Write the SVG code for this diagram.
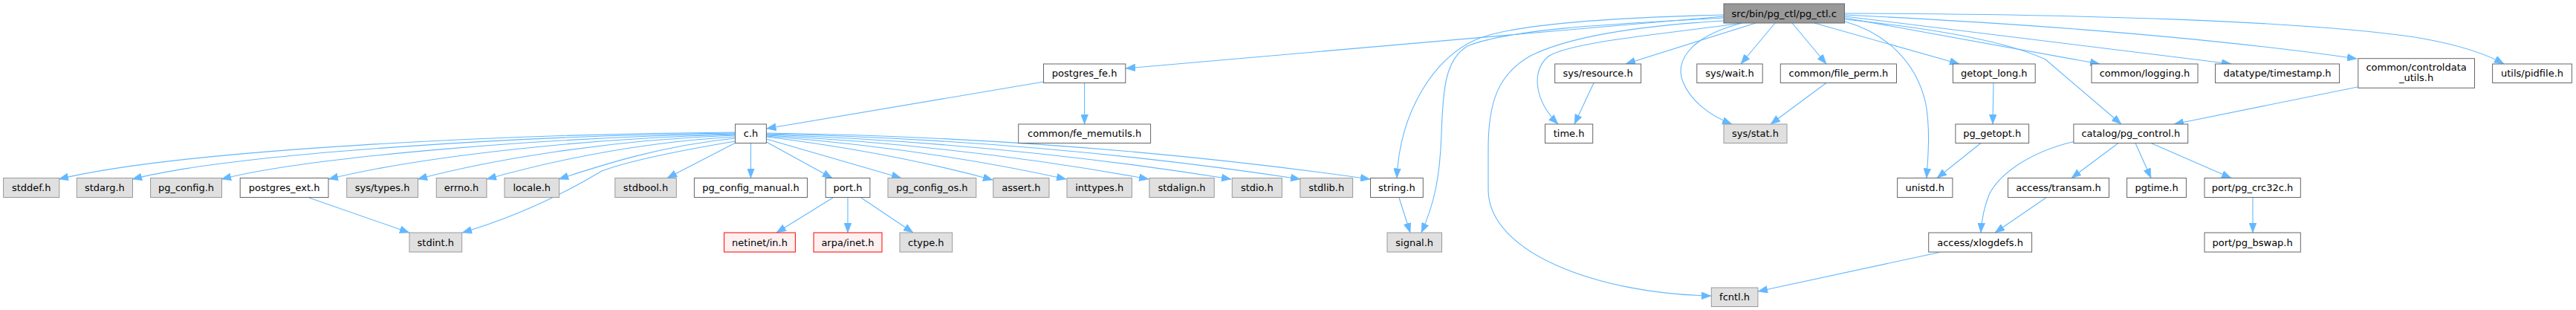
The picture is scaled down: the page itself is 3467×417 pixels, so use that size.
<svg xmlns="http://www.w3.org/2000/svg" width="3467" height="417" viewBox="0 0 3467 417">
<style>
rect{stroke-width:1}
.w{fill:#ffffff;stroke:#666666}
.g{fill:#e0e0e0;stroke:#999999}
.r{fill:#999999;stroke:#666666}
.m{fill:#fff0f0;stroke:#ff0000}
text{font-family:"DejaVu Sans","Liberation Sans",sans-serif;font-size:13px;fill:#000000;text-anchor:middle}
#edges path{fill:none;stroke:#63b8ff;stroke-width:1.1;marker-end:url(#ah)}
</style>
<defs>
<marker id="ah" markerUnits="userSpaceOnUse" markerWidth="13" markerHeight="10" viewBox="0 0 13 10" refX="13" refY="5" orient="auto">
<path d="M0,0 L13,5 L0,10 z" fill="#63b8ff" stroke="#63b8ff" stroke-width="0.5"/>
</marker>
</defs>
<rect width="3467" height="417" fill="#ffffff"/>
<g id="edges">
<path d="M2320,22 L1515,92"/>
<path d="M2320,20 C2150,24 2030,35 1987,53 C1930,78 1884,150 1880,239.5"/>
<path d="M2320,24 C2150,33 2030,40 1975,62 C1945,80 1942,120 1940,180 C1938,240 1930,275 1913,313"/>
<path d="M2320,28 C2200,35 2110,50 2060,75 C2015,100 2003,140 2003,200 L2003,255 C2003,340 2150,395 2303,398"/>
<path d="M2343,31 C2250,45 2120,55 2085,75 C2060,95 2065,135 2097,167"/>
<path d="M2363,31 L2188,86"/>
<path d="M2345,31 C2270,50 2255,85 2265,110 C2275,135 2300,155 2331,167"/>
<path d="M2389,31 L2343,86"/>
<path d="M2412,31 L2458,86"/>
<path d="M2483,29 C2540,45 2580,85 2592,140 C2598,175 2595,210 2593,239.5"/>
<path d="M2442,31 L2637,86"/>
<path d="M2483,26 C2600,38 2700,55 2753,80 L2855,167"/>
<path d="M2483,24 L2826,86"/>
<path d="M2483,22 L3003,86"/>
<path d="M2483,20 Q2900,40 3172,79"/>
<path d="M2483,18 C2800,19 3100,28 3250,50 C3310,60 3345,72 3370,86"/>
<path d="M1404.5,110 L1031.5,173"/>
<path d="M1459.6,111.5 L1459.6,167"/>
<path d="M989.5,178 C700,180 250,200 79,241"/>
<path d="M989.5,179 C720,182 320,205 178,241"/>
<path d="M989.5,180 C750,184 420,210 298,241"/>
<path d="M989.5,181 C780,186 560,212 442,241"/>
<path d="M989.5,182 C820,188 660,215 562,241"/>
<path d="M989.5,184 C850,192 730,220 655,241"/>
<path d="M989.5,186 C890,196 810,222 752,241"/>
<path d="M989.5,190 C930,200 850,215 810,230 C760,260 700,290 622,313"/>
<path d="M990,192 L898,239.5"/>
<path d="M1010.5,192.5 L1010.5,239.5"/>
<path d="M1031.5,191 L1120,239.5"/>
<path d="M1031.5,187 L1213,239.5"/>
<path d="M1031.5,184 Q1200,205 1336,242"/>
<path d="M1031.5,183 Q1250,200 1435,241"/>
<path d="M1031.5,182 Q1300,196 1546,241"/>
<path d="M1031.5,181 Q1350,192 1657,241"/>
<path d="M1031.5,180 Q1400,188 1750,241"/>
<path d="M1031.5,179 Q1450,185 1844,241"/>
<path d="M1121,266 L1045,313"/>
<path d="M1141,266 L1141,313"/>
<path d="M1159,266 L1229,313"/>
<path d="M416,266 L551,313"/>
<path d="M1883,266 L1898,313"/>
<path d="M2145,111.5 L2119,167"/>
<path d="M2458,111.5 L2383,167"/>
<path d="M2683,111.5 L2682,167"/>
<path d="M2666,192.5 L2607,239.5"/>
<path d="M3173,117 L2926,167"/>
<path d="M2791,190.5 C2730,205 2690,235 2677,262 C2670,280 2667,295 2666,313"/>
<path d="M2851,192.5 L2788,239.5"/>
<path d="M2874,192.5 L2895,239.5"/>
<path d="M2895,192.5 L3003,239.5"/>
<path d="M2753.6,266 L2685,313"/>
<path d="M3032,266 L3032,313"/>
<path d="M2610,339.5 L2366,392"/>
</g>
<g id="n_root"><rect class="r" x="2320" y="5" width="162.5" height="26"/><text x="2401.2" y="22.7">src/bin/pg_ctl/pg_ctl.c</text></g>
<g id="n_postgres_fe"><rect class="w" x="1404.5" y="86" width="110.3" height="25.5"/><text x="1459.6" y="103.4">postgres_fe.h</text></g>
<g id="n_sys_resource"><rect class="w" x="2092.7" y="86" width="115.9" height="25.5"/><text x="2150.6" y="103.4">sys/resource.h</text></g>
<g id="n_sys_wait"><rect class="w" x="2283.8" y="86" width="88.4" height="25.5"/><text x="2328" y="103.4">sys/wait.h</text></g>
<g id="n_file_perm"><rect class="w" x="2396.3" y="86" width="156.2" height="25.5"/><text x="2474.4" y="103.4">common/file_perm.h</text></g>
<g id="n_getopt_long"><rect class="w" x="2628.4" y="86" width="110.8" height="25.5"/><text x="2683.8" y="103.4">getopt_long.h</text></g>
<g id="n_logging"><rect class="w" x="2815" y="86" width="143" height="25.5"/><text x="2886.5" y="103.4">common/logging.h</text></g>
<g id="n_timestamp"><rect class="w" x="2981.5" y="86" width="167" height="25.5"/><text x="3065" y="103.4">datatype/timestamp.h</text></g>
<g id="n_controldata"><rect class="w" x="3173.8" y="78.7" width="156.7" height="39.6"/><text x="3252.1" y="94.8">common/controldata</text><text x="3252.1" y="109.3">_utils.h</text></g>
<g id="n_pidfile"><rect class="w" x="3354.6" y="86" width="106.8" height="25.5"/><text x="3408" y="103.4">utils/pidfile.h</text></g>
<g id="n_c"><rect class="w" x="989.5" y="167" width="41.9" height="25.5"/><text x="1010.5" y="184.4">c.h</text></g>
<g id="n_fe_memutils"><rect class="w" x="1370.7" y="167" width="177.9" height="25.5"/><text x="1459.6" y="184.4">common/fe_memutils.h</text></g>
<g id="n_time"><rect class="w" x="2079.5" y="167" width="64.2" height="25.5"/><text x="2111.6" y="184.4">time.h</text></g>
<g id="n_sys_stat"><rect class="g" x="2320" y="167" width="85" height="25.5"/><text x="2362.5" y="184.4">sys/stat.h</text></g>
<g id="n_pg_getopt"><rect class="w" x="2631.9" y="167" width="98.7" height="25.5"/><text x="2681.2" y="184.4">pg_getopt.h</text></g>
<g id="n_pg_control"><rect class="w" x="2790.9" y="167" width="153.8" height="25.5"/><text x="2867.8" y="184.4">catalog/pg_control.h</text></g>
<g id="n_stddef"><rect class="g" x="4.6" y="239.5" width="75.2" height="26"/><text x="42.2" y="257.2">stddef.h</text></g>
<g id="n_stdarg"><rect class="g" x="103.3" y="239.5" width="75.2" height="26"/><text x="140.9" y="257.2">stdarg.h</text></g>
<g id="n_pg_config"><rect class="g" x="202.6" y="239.5" width="95.9" height="26"/><text x="250.5" y="257.2">pg_config.h</text></g>
<g id="n_postgres_ext"><rect class="w" x="323.2" y="239.5" width="118.8" height="26"/><text x="382.6" y="257.2">postgres_ext.h</text></g>
<g id="n_sys_types"><rect class="g" x="466.7" y="239.5" width="95.9" height="26"/><text x="514.6" y="257.2">sys/types.h</text></g>
<g id="n_errno"><rect class="g" x="587.3" y="239.5" width="67.7" height="26"/><text x="621.1" y="257.2">errno.h</text></g>
<g id="n_locale"><rect class="g" x="679" y="239.5" width="73.6" height="26"/><text x="715.8" y="257.2">locale.h</text></g>
<g id="n_stdbool"><rect class="g" x="827.8" y="239.5" width="82.5" height="26"/><text x="869" y="257.2">stdbool.h</text></g>
<g id="n_pg_config_manual"><rect class="w" x="934.4" y="239.5" width="152.1" height="26"/><text x="1010.5" y="257.2">pg_config_manual.h</text></g>
<g id="n_port"><rect class="w" x="1111.2" y="239.5" width="59.7" height="26"/><text x="1141" y="257.2">port.h</text></g>
<g id="n_pg_config_os"><rect class="g" x="1195" y="239.5" width="118.8" height="26"/><text x="1254.4" y="257.2">pg_config_os.h</text></g>
<g id="n_assert"><rect class="g" x="1336.8" y="239.5" width="75.2" height="26"/><text x="1374.4" y="257.2">assert.h</text></g>
<g id="n_inttypes"><rect class="g" x="1436" y="239.5" width="87.4" height="26"/><text x="1479.7" y="257.2">inttypes.h</text></g>
<g id="n_stdalign"><rect class="g" x="1546.9" y="239.5" width="87.3" height="26"/><text x="1590.5" y="257.2">stdalign.h</text></g>
<g id="n_stdio"><rect class="g" x="1658.3" y="239.5" width="67.1" height="26"/><text x="1691.8" y="257.2">stdio.h</text></g>
<g id="n_stdlib"><rect class="g" x="1749.9" y="239.5" width="70.7" height="26"/><text x="1785.2" y="257.2">stdlib.h</text></g>
<g id="n_string"><rect class="w" x="1844.5" y="239.5" width="70.8" height="26"/><text x="1879.9" y="257.2">string.h</text></g>
<g id="n_unistd"><rect class="w" x="2553.6" y="239.5" width="74.3" height="26"/><text x="2590.7" y="257.2">unistd.h</text></g>
<g id="n_transam"><rect class="w" x="2702.5" y="239.5" width="136" height="26"/><text x="2770.5" y="257.2">access/transam.h</text></g>
<g id="n_pgtime"><rect class="w" x="2862.6" y="239.5" width="79.8" height="26"/><text x="2902.5" y="257.2">pgtime.h</text></g>
<g id="n_pg_crc32c"><rect class="w" x="2967" y="239.5" width="129.3" height="26"/><text x="3031.6" y="257.2">port/pg_crc32c.h</text></g>
<g id="n_stdint"><rect class="g" x="551" y="313" width="70.7" height="26"/><text x="586.3" y="330.7">stdint.h</text></g>
<g id="n_netinet_in"><rect class="m" x="974.6" y="313" width="95.8" height="26"/><text x="1022.5" y="330.7">netinet/in.h</text></g>
<g id="n_arpa_inet"><rect class="m" x="1095.1" y="313" width="91.9" height="26"/><text x="1141" y="330.7">arpa/inet.h</text></g>
<g id="n_ctype"><rect class="g" x="1211" y="313" width="70.7" height="26"/><text x="1246.3" y="330.7">ctype.h</text></g>
<g id="n_signal"><rect class="g" x="1867" y="313" width="73.5" height="26"/><text x="1903.7" y="330.7">signal.h</text></g>
<g id="n_xlogdefs"><rect class="w" x="2595.7" y="313" width="138.9" height="26"/><text x="2665.1" y="330.7">access/xlogdefs.h</text></g>
<g id="n_pg_bswap"><rect class="w" x="2967" y="313" width="129.3" height="26"/><text x="3031.6" y="330.7">port/pg_bswap.h</text></g>
<g id="n_fcntl"><rect class="g" x="2303.3" y="387" width="62.6" height="25.5"/><text x="2334.6" y="404.4">fcntl.h</text></g>
</svg>
